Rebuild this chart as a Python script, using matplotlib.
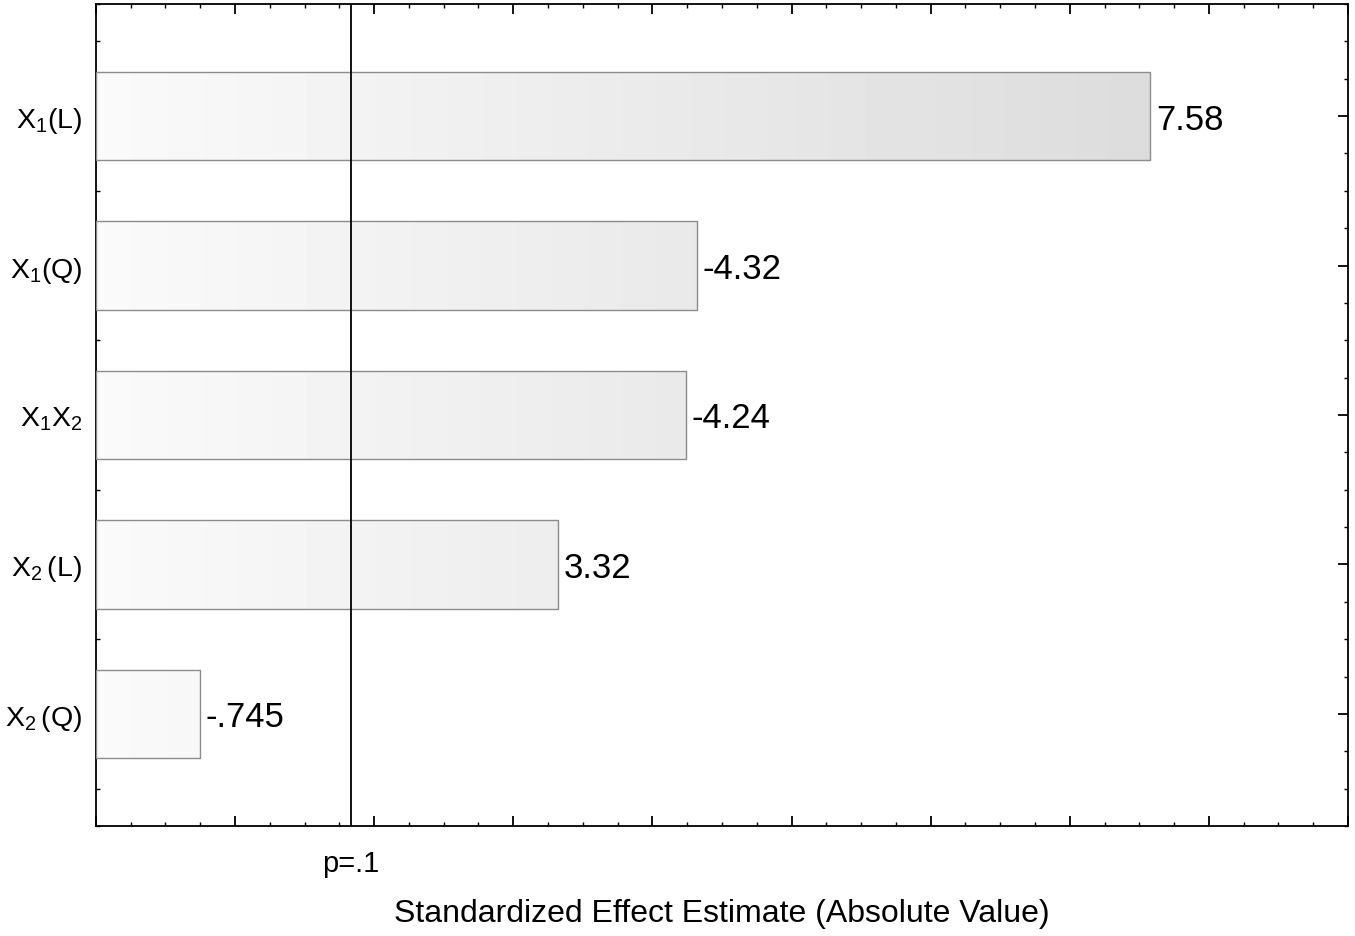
import numpy as np
import matplotlib.pyplot as plt
from matplotlib.ticker import MultipleLocator
from matplotlib.transforms import blended_transform_factory

plt.rcParams['font.family'] = ['Liberation Sans', 'DejaVu Sans']
plt.rcParams['mathtext.fontset'] = 'custom'
plt.rcParams['mathtext.rm'] = 'Liberation Sans'

terms = [r'$\mathregular{X_1(L)}$', r'$\mathregular{X_1(Q)}$', r'$\mathregular{X_1X_2}$',
         r'$\mathregular{X_2\,(L)}$', r'$\mathregular{X_2\,(Q)}$']
effects = [7.58, -4.32, -4.24, 3.32, -0.745]
value_labels = ['7.58', '-4.32', '-4.24', '3.32', '-.745']
t_crit = 1.833  # p=.1


def main():
    fig = plt.figure(figsize=(13.55, 9.37), dpi=100)
    ax = fig.add_axes([0.0708, 0.1174, 0.9240, 0.8773])

    ypos = np.arange(len(terms))
    widths = np.abs(effects)
    xmax = 9.0

    bars = ax.barh(ypos, widths, height=0.59, color='none',
                   edgecolor='#8c8c8c', linewidth=1.0, zorder=3)

    # horizontal grey gradient across the data range, clipped to each bar
    grad = np.linspace(250, 250 - 30 * xmax / 7.58, 256) / 255.0
    img = np.tile(grad, (2, 1))
    for b in bars:
        im = ax.imshow(img, cmap='gray', vmin=0, vmax=1, aspect='auto',
                       extent=[0, xmax, -1, 5], zorder=2, interpolation='bilinear')
        im.set_clip_path(b)

    for y, w, lab in zip(ypos, widths, value_labels):
        ax.text(w + 0.04, y + 0.02, lab, va='center', ha='left', fontsize=25,
                zorder=4)

    ax.axvline(t_crit, color='black', linewidth=1.3, zorder=5)
    trans = blended_transform_factory(ax.transData, ax.transAxes)
    ax.text(t_crit, -0.028, 'p=.1', transform=trans, ha='center', va='top',
            fontsize=21)

    ax.set_xlim(0, xmax)
    ax.set_ylim(4.75, -0.75)
    ax.xaxis.set_major_locator(MultipleLocator(1))
    ax.xaxis.set_minor_locator(MultipleLocator(0.25))
    ax.yaxis.set_minor_locator(MultipleLocator(0.25))
    ax.set_yticks(ypos)
    ax.set_yticklabels(terms, fontsize=20.5)
    ax.tick_params(axis='x', which='both', labelbottom=False)
    ax.tick_params(which='both', direction='in', top=True, right=True,
                   color='black')
    ax.tick_params(which='major', length=7, width=1.3)
    ax.tick_params(which='minor', length=3, width=1.0)
    ax.tick_params(axis='y', which='major', pad=10)

    for s in ax.spines.values():
        s.set_linewidth(1.3)

    ax.set_xlabel('Standardized Effect Estimate (Absolute Value)', fontsize=23,
                  labelpad=52)

    fig.savefig('out.png', dpi=100)


if __name__ == '__main__':
    main()
